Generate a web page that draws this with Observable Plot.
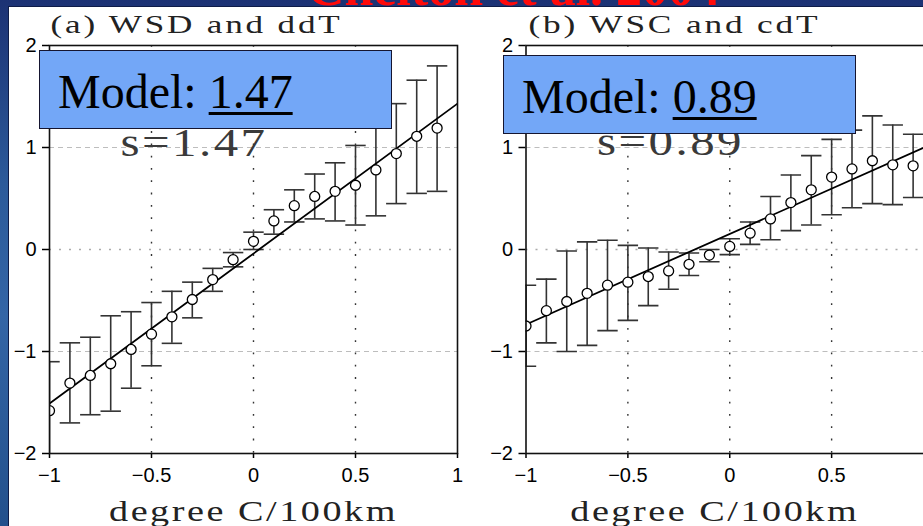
<!DOCTYPE html>
<html><head><meta charset="utf-8">
<script src="https://cdn.jsdelivr.net/npm/d3@7"></script>
<script src="https://cdn.jsdelivr.net/npm/@observablehq/plot@0.6"></script>
<style>
html,body{margin:0;padding:0;width:923px;height:526px;overflow:hidden;}
body{position:relative;background:linear-gradient(180deg,#1c3274 0%,#2c5a9a 35%,#3465a6 60%,#23508c 100%);}
#band{position:absolute;left:0;top:0;width:923px;height:6px;overflow:hidden;z-index:3;}
#red{position:absolute;left:307px;top:-38.5px;font:bold 52px/52px "Liberation Serif",serif;color:#ff0a0a;white-space:nowrap;}
#sheet{position:absolute;left:8px;top:6px;width:915px;height:520px;background:#fff;border-left:1.5px solid #0e1c48;border-top:1.5px solid #0e1c48;z-index:1;}
.panel{position:absolute;top:0;z-index:2;}
.panel svg{max-width:none;display:block;}
.panel svg g[aria-label$="tick"]{stroke-width:1.5;}
.box{position:absolute;width:353px;height:79px;background:#73a7f7;border:1.5px solid #151530;box-sizing:border-box;z-index:4;}
.box .t{position:absolute;left:18px;top:16.5px;font:48px/48px "Liberation Serif",serif;color:#000;white-space:nowrap;}
.box u{text-decoration-thickness:3px;text-underline-offset:4px;}
</style>
</head><body>
<div id="band"><div id="red">Chelton et al. 2004</div></div>
<div id="sheet"></div>
<div id="pa" class="panel" style="left:0px"></div>
<div id="pb" class="panel" style="left:460px"></div>
<div class="box" style="left:39px;top:50px"><div class="t">Model: <u>1.47</u></div></div>
<div class="box" style="left:503px;top:55px"><div class="t">Model: <u>0.89</u></div></div>
<script>
// ---- data ----
const xs = [-1,-0.9,-0.8,-0.7,-0.6,-0.5,-0.4,-0.3,-0.2,-0.1,0,0.1,0.2,0.3,0.4,0.5,0.6,0.7,0.8,0.9];

// (a) WSD and ddT
const aMean = [-1.58,-1.31,-1.235,-1.12,-0.98,-0.83,-0.66,-0.49,-0.295,-0.10,0.08,0.28,0.43,0.52,0.57,0.63,0.78,0.94,1.11,1.19];
const aHigh = [-1.10,-0.915,-0.86,-0.65,-0.61,-0.52,-0.41,-0.32,-0.185,-0.03,0.17,0.39,0.585,0.74,0.85,1.02,1.28,1.43,1.66,1.80];
const aLow  = [-2.06,-1.70,-1.62,-1.585,-1.36,-1.14,-0.92,-0.67,-0.41,-0.17,0.0,0.15,0.27,0.30,0.28,0.24,0.33,0.45,0.55,0.57];
const aFitX = [-1, 1];
const aFitY = [-1.51, 1.43];

// (b) WSC and cdT
const bMean = [-0.75,-0.60,-0.51,-0.43,-0.35,-0.32,-0.265,-0.21,-0.145,-0.055,0.03,0.16,0.30,0.46,0.585,0.71,0.79,0.87,0.83,0.82];
const bHigh = [-0.35,-0.29,-0.015,0.075,0.09,0.04,0.015,-0.025,-0.035,0.0,0.105,0.27,0.52,0.73,0.92,1.08,1.17,1.31,1.22,1.13];
const bLow  = [-1.145,-0.915,-1.0,-0.94,-0.795,-0.695,-0.55,-0.39,-0.255,-0.12,-0.05,0.05,0.095,0.185,0.24,0.34,0.41,0.45,0.44,0.51];
const bFitX = [-1, 1];
const bFitY = [-0.735, 1.04];

const xTicks = [-1,-0.5,0,0.5,1];
const xTickLabels = ["\u22121","\u22120.5","0","0.5","1"];
const yTicks = [-2,-1,0,1,2];
const yTickLabels = ["\u22122","\u22121","0","1","2"];
const gridDashed = [-1, 1];
const gridDotY = [0];
const gridDotX = [-0.5, 0, 0.5];

const titles = ["(a) WSD and ddT", "(b) WSC and cdT"];
const slopeLabels = ["s=1.47", "s=0.89"];
const xLabel = "degree C/100km";

// ---- drawing ----
function stretch(t, len) {
  t.setAttribute("letter-spacing", "2");
  t.setAttribute("textLength", len);
  t.setAttribute("lengthAdjust", "spacingAndGlyphs");
}

function panel(mean, high, low, fitX, fitY, title, sLabel, opts) {
  const rows = xs.map((x, i) => ({x, y: mean[i], hi: high[i], lo: low[i]}));
  const fit = fitX.map((x, i) => ({x, y: fitY[i]}));
  const cap = 0.05;
  const barStyle = {stroke: "#333", strokeWidth: 1.6, clip: true};
  const serif = "Liberation Serif";
  const svg = Plot.plot({
    width: opts.width, height: 526,
    marginLeft: opts.ml, marginRight: opts.mr, marginTop: 45, marginBottom: 73,
    style: {background: "transparent", fontFamily: "Liberation Sans", fontSize: "20px", color: "#000", overflow: "visible"},
    x: {domain: [-1, 1], ticks: xTicks, tickFormat: (d) => xTickLabels[xTicks.indexOf(d)], tickSize: 5, tickPadding: 9, label: null},
    y: {domain: [-2, 2], ticks: yTicks, tickFormat: (d) => yTickLabels[yTicks.indexOf(d)], tickSize: 7, tickPadding: 6, label: null},
    marks: [
      Plot.ruleY(gridDashed, {stroke: "#bdbdbd", strokeDasharray: "5,4", strokeWidth: 1}),
      Plot.ruleY(gridDotY, {stroke: "#aaa", strokeDasharray: "2,8", strokeWidth: 1.6}),
      Plot.ruleX(gridDotX, {stroke: "#333", strokeDasharray: "1.8,10.5", strokeWidth: 1.4}),
      Plot.ruleX(rows, {x: "x", y1: "lo", y2: "hi", ...barStyle}),
      Plot.link(rows, {x1: (d) => d.x - cap, x2: (d) => d.x + cap, y1: "hi", y2: "hi", ...barStyle}),
      Plot.link(rows, {x1: (d) => d.x - cap, x2: (d) => d.x + cap, y1: "lo", y2: "lo", ...barStyle}),
      Plot.line(fit, {x: "x", y: "y", stroke: "#000", strokeWidth: 1.8, clip: true}),
      Plot.dot(rows, {x: "x", y: "y", r: 5, fill: "white", stroke: "#000", strokeWidth: 1.3, clip: true}),
      Plot.frame({stroke: "#111", strokeWidth: 1.6}),
      Plot.text([title], {frameAnchor: "top-left", textAnchor: "start", lineAnchor: "bottom", dx: opts.tdx, dy: -13,
        fontFamily: serif, fontSize: 25, fill: "#222"}),
      Plot.text([sLabel], {frameAnchor: "top-left", textAnchor: "start", lineAnchor: "bottom", dx: 71, dy: opts.sdy,
        fontFamily: serif, fontSize: 40, fill: "#3a3a3a"}),
      Plot.text([xLabel], {frameAnchor: "bottom", textAnchor: "middle", lineAnchor: "bottom", dx: opts.ldx, dy: 67,
        fontFamily: serif, fontSize: 30, fill: "#222"})
    ]
  });
  svg.querySelectorAll("text").forEach((t) => {
    const s = t.textContent;
    if (s === title) stretch(t, 292);
    else if (s === sLabel) stretch(t, 147);
    else if (s === xLabel) stretch(t, 289);
  });
  return svg;
}

document.getElementById("pa").append(
  panel(aMean, aHigh, aLow, aFitX, aFitY, titles[0], slopeLabels[0], {width: 470, ml: 49, mr: 13, tdx: 1, sdy: 110, ldx: 0})
);
document.getElementById("pb").append(
  panel(bMean, bHigh, bLow, bFitX, bFitY, titles[1], slopeLabels[1], {width: 490, ml: 65.5, mr: 17, tdx: 2.5, sdy: 109, ldx: -15})
);
</script>
</body></html>
